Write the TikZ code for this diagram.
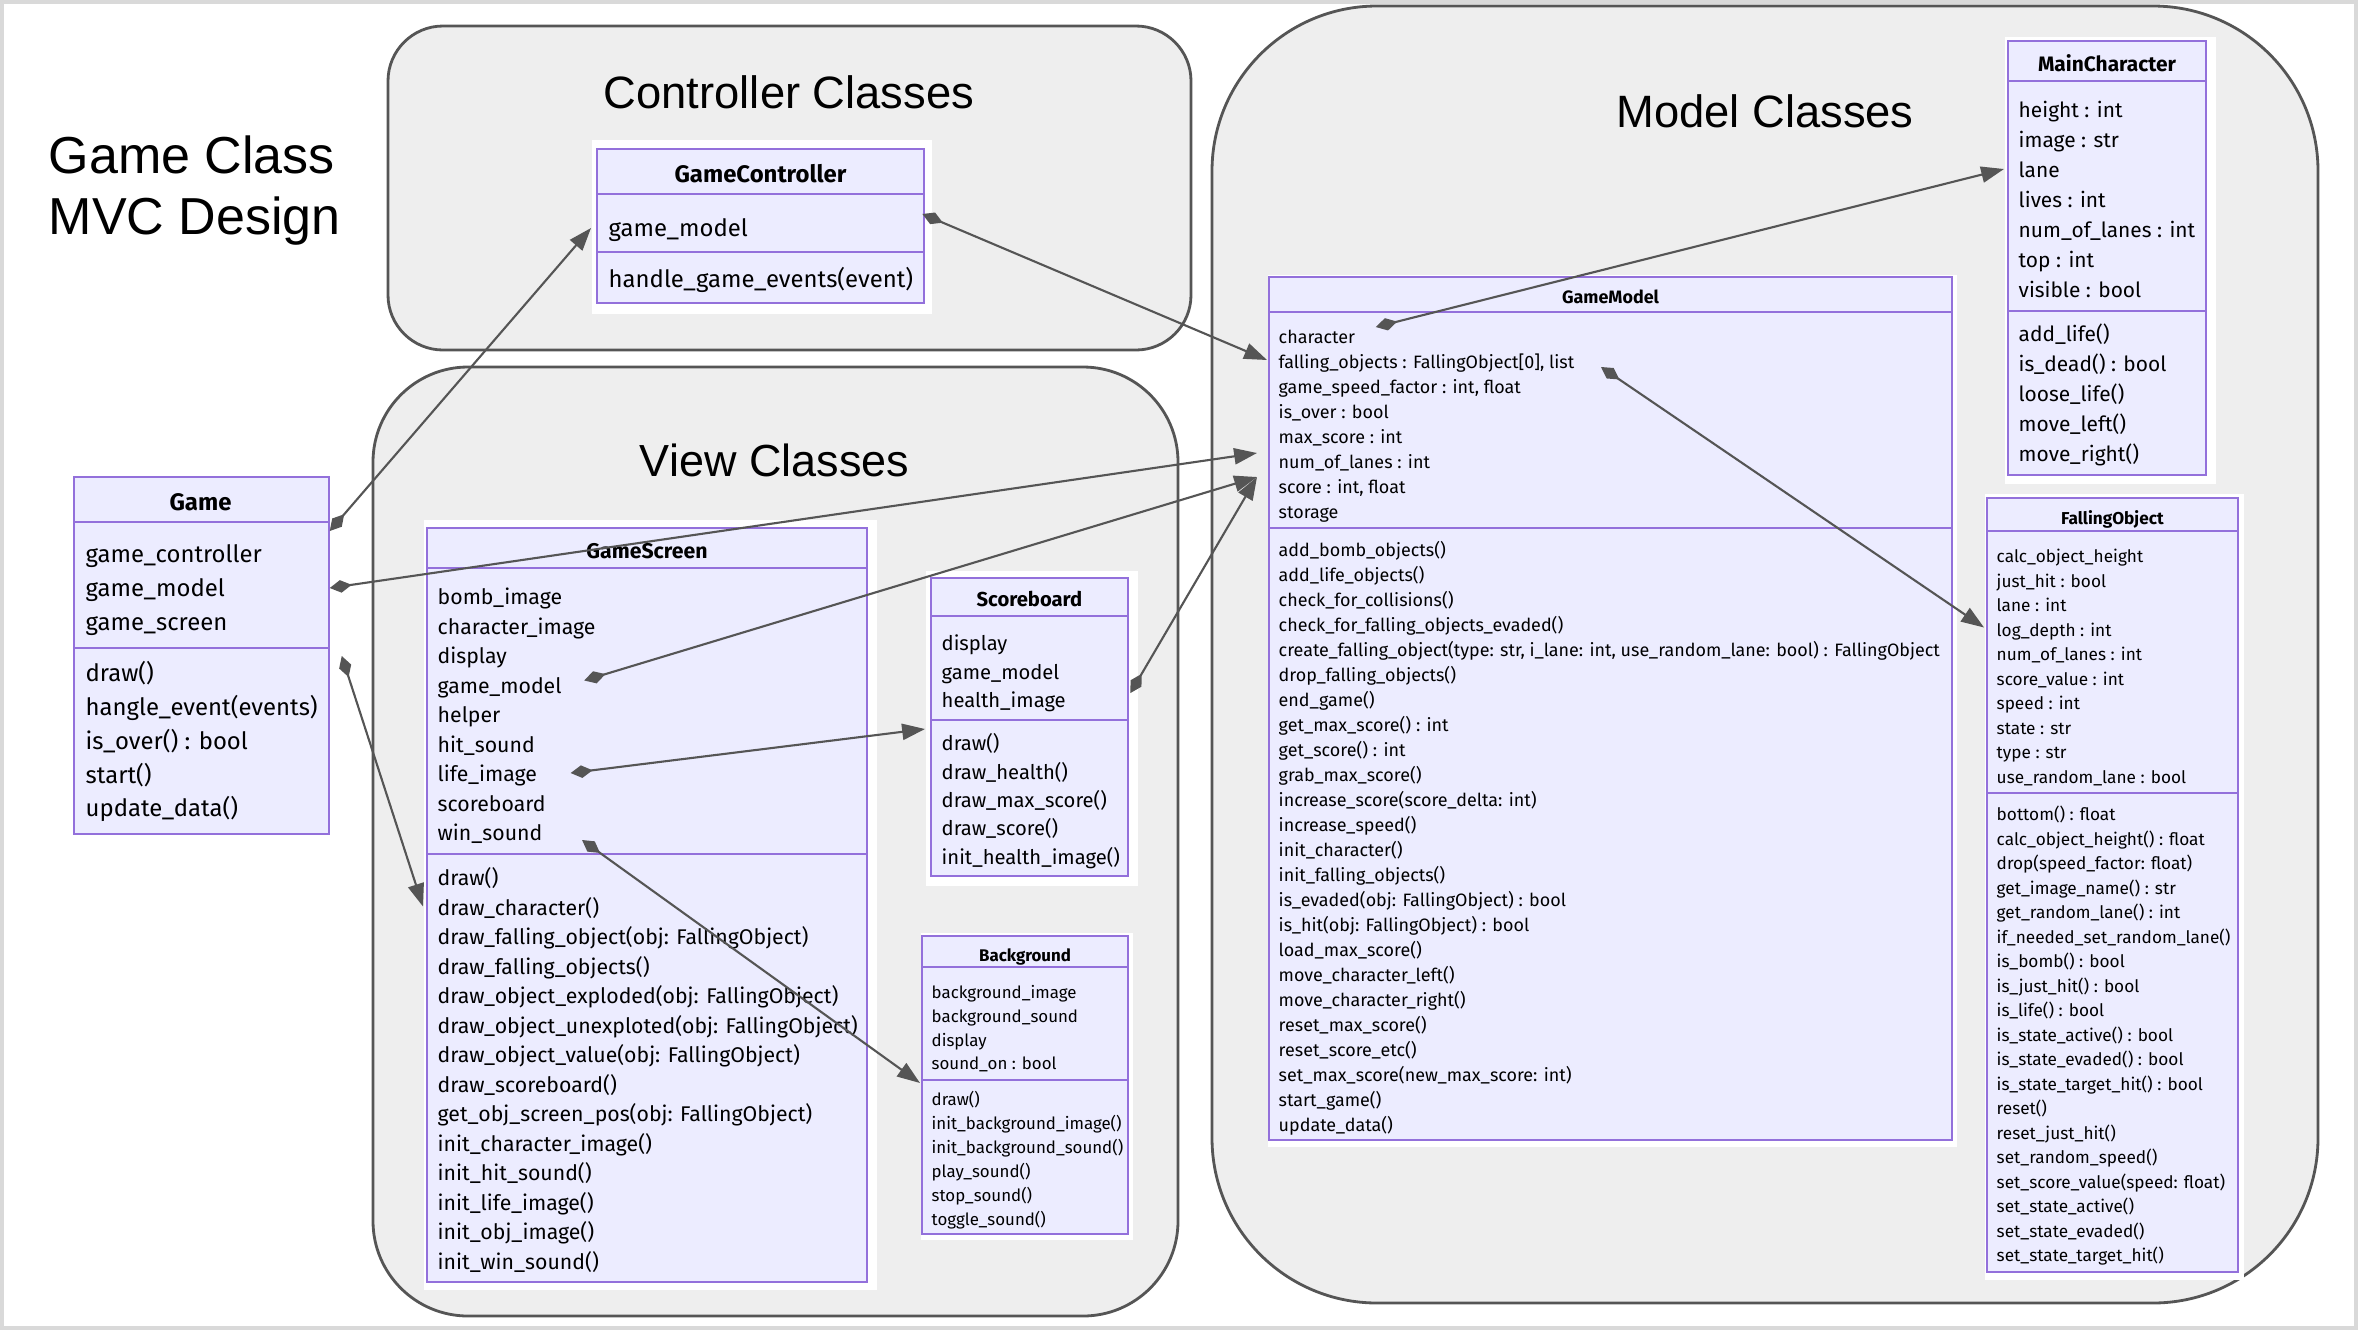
\documentclass[tikz,border=0pt]{standalone}
\usepackage{fontspec}
\setmainfont{Fira Sans}
\newfontfamily\slidefont{Liberation Sans}
\usetikzlibrary{arrows.meta,calc}
\definecolor{lav}{RGB}{236,236,255}
\definecolor{lavline}{RGB}{147,112,219}
\definecolor{grp}{RGB}{238,238,238}
\definecolor{ink}{RGB}{85,85,85}
\begin{document}
\begin{tikzpicture}[
  group/.style={draw=ink, line width=0.8pt, fill=grp},
  backbox/.style={fill=white, inner sep=0pt, anchor=north west},
  cls/.style={draw=lavline, fill=lav, line width=0.5pt},
  sepline/.style={draw=lavline, line width=0.5pt},
  member/.style={anchor=west, inner sep=0pt, text height=.75em, text depth=.25em},
  hd/.style={inner sep=0pt, text height=.75em, text depth=.25em},
  link/.style={draw=ink, line width=0.6pt, {Diamond[length=6.3pt,width=3.6pt]}-{Triangle[length=6.5pt,width=4.6pt]}}]
\useasboundingbox (0,0) rectangle (23.58,-13.30);
\draw[black!15, line width=1pt] (0.02,-0.02) rectangle (23.56,-13.28);
% groups
\draw[group, rounded corners=0.55cm] (3.88,-0.26) rectangle (11.91,-3.50);
\draw[group, rounded corners=0.95cm] (3.73,-3.67) rectangle (11.78,-13.16);
\draw[group, rounded corners=1.65cm] (12.12,-0.06) rectangle (23.18,-13.03);
\node[font=\slidefont\fontsize{14.8}{17.6}\selectfont, align=left, anchor=west, inner sep=0pt] (title) at (0.48,-1.905) {Game Class\\MVC Design};
\node[font=\slidefont\fontsize{12.9}{15}\selectfont, anchor=base] (ctrl-title) at (7.89,-1.08) {Controller Classes};
\node[font=\slidefont\fontsize{12.8}{15}\selectfont, anchor=base] (view-title) at (7.745,-4.76) {View Classes};
\node[font=\slidefont\fontsize{12.9}{15}\selectfont, anchor=base] (model-title) at (17.65,-1.27) {Model Classes};
% Game
\begin{scope}[font=\fontsize{6.8}{8}\selectfont]
\node[cls, anchor=north west, minimum width=2.55cm, minimum height=3.57cm, inner sep=0pt] (game) at (0.73,-4.76) {};
\draw[sepline] (0.73,-5.22) -- (3.28,-5.22) (0.73,-6.48) -- (3.28,-6.48);
\node[hd] (game-h) at (2.005,-5.02) {\textbf{Game}};
\foreach \t [count=\i] in {game\_controller, game\_model, game\_screen}
  \node[member] (game-a\i) at (0.85,{-5.54-0.34*(\i-1)}) {\t};
\foreach \t [count=\i] in {draw(), hangle\_event(events), {is\_over() : bool}, start(), update\_data()}
  \node[member] (game-m\i) at (0.85,{-6.73-0.3375*(\i-1)}) {\t};
\end{scope}
% GameController
\begin{scope}[font=\fontsize{6.8}{8}\selectfont]
\node[backbox, minimum width=3.40cm, minimum height=1.74cm] (gc) at (5.91,-1.39) {};
\draw[cls] (5.97,-1.49) rectangle (9.24,-3.03);
\draw[sepline] (5.97,-1.94) -- (9.24,-1.94) (5.97,-2.52) -- (9.24,-2.52);
\node[hd] (gc-h) at (7.605,-1.74) {\textbf{GameController}};
\node[member] (gc-a1) at (6.08,-2.28) {game\_model};
\node[member] (gc-m1) at (6.08,-2.79) {handle\_game\_events(event)};
\end{scope}
% GameScreen
\begin{scope}[font=\fontsize{6.05}{7}\selectfont]
\node[backbox, minimum width=4.53cm, minimum height=7.70cm] (gs) at (4.23,-5.19) {};
\draw[cls] (4.27,-5.28) rectangle (8.67,-12.82);
\draw[sepline] (4.27,-5.68) -- (8.67,-5.68) (4.27,-8.54) -- (8.67,-8.54);
\node[hd] (gs-h) at (6.47,-5.50) {\textbf{GameScreen}};
\foreach \t [count=\i] in {bomb\_image, character\_image, display, game\_model, helper, hit\_sound, life\_image, scoreboard, win\_sound}
  \node[member] (gs-a\i) at (4.37,{-5.96-0.295*(\i-1)}) {\t};
\foreach \t [count=\i] in {draw(), draw\_character(), {draw\_falling\_object(obj: FallingObject)}, draw\_falling\_objects(),
    {draw\_object\_exploded(obj: FallingObject)}, {draw\_object\_unexploted(obj: FallingObject)},
    {draw\_object\_value(obj: FallingObject)}, draw\_scoreboard(), {get\_obj\_screen\_pos(obj: FallingObject)},
    init\_character\_image(), init\_hit\_sound(), init\_life\_image(), init\_obj\_image(), init\_win\_sound()}
  \node[member] (gs-m\i) at (4.37,{-8.77-0.295*(\i-1)}) {\t};
\end{scope}
% Scoreboard
\begin{scope}[font=\fontsize{5.75}{7}\selectfont]
\node[backbox, minimum width=2.12cm, minimum height=3.15cm] (sb) at (9.25,-5.70) {};
\draw[cls] (9.31,-5.78) rectangle (11.28,-8.76);
\draw[sepline] (9.31,-6.16) -- (11.28,-6.16) (9.31,-7.20) -- (11.28,-7.20);
\node[hd] (sb-h) at (10.295,-5.98) {\textbf{Scoreboard}};
\foreach \t [count=\i] in {display, game\_model, health\_image}
  \node[member] (sb-a\i) at (9.41,{-6.42-0.285*(\i-1)}) {\t};
\foreach \t [count=\i] in {draw(), draw\_health(), draw\_max\_score(), draw\_score(), init\_health\_image()}
  \node[member] (sb-m\i) at (9.41,{-7.42-0.283*(\i-1)}) {\t};
\end{scope}
% Background
\begin{scope}[font=\fontsize{4.8}{6}\selectfont]
\node[backbox, minimum width=2.12cm, minimum height=3.07cm] (bg) at (9.20,-9.32) {};
\draw[cls] (9.22,-9.36) rectangle (11.28,-12.34);
\draw[sepline] (9.22,-9.67) -- (11.28,-9.67) (9.22,-10.80) -- (11.28,-10.80);
\node[hd] (bg-h) at (10.25,-9.53) {\textbf{Background}};
\foreach \t [count=\i] in {background\_image, background\_sound, display, {sound\_on : bool}}
  \node[member] (bg-a\i) at (9.31,{-9.90-0.237*(\i-1)}) {\t};
\foreach \t [count=\i] in {draw(), init\_background\_image(), init\_background\_sound(), play\_sound(), stop\_sound(), toggle\_sound()}
  \node[member] (bg-m\i) at (9.31,{-10.97-0.24*(\i-1)}) {\t};
\end{scope}
% GameModel
\begin{scope}[font=\fontsize{5.1}{6}\selectfont]
\node[backbox, minimum width=6.89cm, minimum height=8.72cm] (gm) at (12.67,-2.74) {};
\draw[cls] (12.69,-2.77) rectangle (19.52,-11.40);
\draw[sepline] (12.69,-3.12) -- (19.52,-3.12) (12.69,-5.28) -- (19.52,-5.28);
\node[hd] (gm-h) at (16.105,-2.95) {\textbf{GameModel}};
\foreach \t [count=\i] in {character, {falling\_objects : FallingObject[0], list}, {game\_speed\_factor : int, float},
    {is\_over : bool}, {max\_score : int}, {num\_of\_lanes : int}, {score : int, float}, storage}
  \node[member] (gm-a\i) at (12.78,{-3.35-0.25*(\i-1)}) {\t};
\foreach \t [count=\i] in {add\_bomb\_objects(), add\_life\_objects(), check\_for\_collisions(), check\_for\_falling\_objects\_evaded(),
    {create\_falling\_object(type: str, i\_lane: int, use\_random\_lane: bool) : FallingObject}, drop\_falling\_objects(),
    end\_game(), {get\_max\_score() : int}, {get\_score() : int}, grab\_max\_score(), {increase\_score(score\_delta: int)},
    increase\_speed(), init\_character(), init\_falling\_objects(), {is\_evaded(obj: FallingObject) : bool},
    {is\_hit(obj: FallingObject) : bool}, load\_max\_score(), move\_character\_left(), move\_character\_right(),
    reset\_max\_score(), reset\_score\_etc(), {set\_max\_score(new\_max\_score: int)}, start\_game(), update\_data()}
  \node[member] (gm-m\i) at (12.78,{-5.48-0.25*(\i-1)}) {\t};
\end{scope}
% MainCharacter
\begin{scope}[font=\fontsize{5.95}{7}\selectfont]
\node[backbox, minimum width=2.11cm, minimum height=4.47cm] (mc) at (20.04,-0.36) {};
\draw[cls] (20.08,-0.41) rectangle (22.06,-4.75);
\draw[sepline] (20.08,-0.81) -- (22.06,-0.81) (20.08,-3.11) -- (22.06,-3.11);
\node[hd] (mc-h) at (21.07,-0.63) {\textbf{MainCharacter}};
\foreach \t [count=\i] in {{height : int}, {image : str}, lane, {lives : int}, {num\_of\_lanes : int}, {top : int}, {visible : bool}}
  \node[member] (mc-a\i) at (20.18,{-1.09-0.30*(\i-1)}) {\t};
\foreach \t [count=\i] in {add\_life(), {is\_dead() : bool}, loose\_life(), move\_left(), move\_right()}
  \node[member] (mc-m\i) at (20.18,{-3.33-0.30*(\i-1)}) {\t};
\end{scope}
% FallingObject
\begin{scope}[font=\fontsize{4.9}{6}\selectfont]
\node[backbox, minimum width=2.59cm, minimum height=7.86cm] (fo) at (19.84,-4.93) {};
\draw[cls] (19.87,-4.98) rectangle (22.38,-12.72);
\draw[sepline] (19.87,-5.31) -- (22.38,-5.31) (19.87,-7.93) -- (22.38,-7.93);
\node[hd] (fo-h) at (21.125,-5.16) {\textbf{FallingObject}};
\foreach \t [count=\i] in {calc\_object\_height, {just\_hit : bool}, {lane : int}, {log\_depth : int}, {num\_of\_lanes : int},
    {score\_value : int}, {speed : int}, {state : str}, {type : str}, {use\_random\_lane : bool}}
  \node[member] (fo-a\i) at (19.96,{-5.54-0.245*(\i-1)}) {\t};
\foreach \t [count=\i] in {{bottom() : float}, {calc\_object\_height() : float}, {drop(speed\_factor: float)}, {get\_image\_name() : str},
    {get\_random\_lane() : int}, if\_needed\_set\_random\_lane(), {is\_bomb() : bool}, {is\_just\_hit() : bool}, {is\_life() : bool},
    {is\_state\_active() : bool}, {is\_state\_evaded() : bool}, {is\_state\_target\_hit() : bool}, reset(), reset\_just\_hit(),
    set\_random\_speed(), {set\_score\_value(speed: float)}, set\_state\_active(), set\_state\_evaded(), set\_state\_target\_hit()}
  \node[member] (fo-m\i) at (19.96,{-8.12-0.245*(\i-1)}) {\t};
\end{scope}
% links
\draw[link] ($(game.north east)+(0,-0.55)$) -- (gc.west |- gc-a1);
\draw[link] (game.east |- game-a2) -- ($(gm.west |- gm-a6)+(-0.1,0.07)$);
\draw[link] ($(gc.east |- gc-a1)+(-0.10,0.14)$) -- (gm.west |- gm-a2);
\draw[link] ($(gm-a1.east)+(0.2,0.08)$) -- (mc.west |- mc-a3);
\draw[link] ($(gm-a2.east)+(0.26,-0.07)$) -- (fo.west |- fo-a4);
\draw[link] ($(gs-a4.east)+(0.22,0.04)$) -- ($(gm.west |- gm-a7)+(-0.1,0.08)$);
\draw[link] ($(gs-a7.east)+(0.33,0)$) -- ($(sb.west |- sb-m1)+(0,0.13)$);
\draw[link] ($(gs-a9.east)+(0.39,-0.08)$) -- ($(bg.west |- bg-m1)+(0,0.14)$);
\draw[link] ($(game.east |- game-m1)+(0.12,0.17)$) -- (gs.west |- gs-m2);
\draw[link] ($(sb.east |- sb-a3)+(-0.08,0.06)$) -- ($(gm.west |- gm-a7)+(-0.1,0.08)$);
\end{tikzpicture}
\end{document}
